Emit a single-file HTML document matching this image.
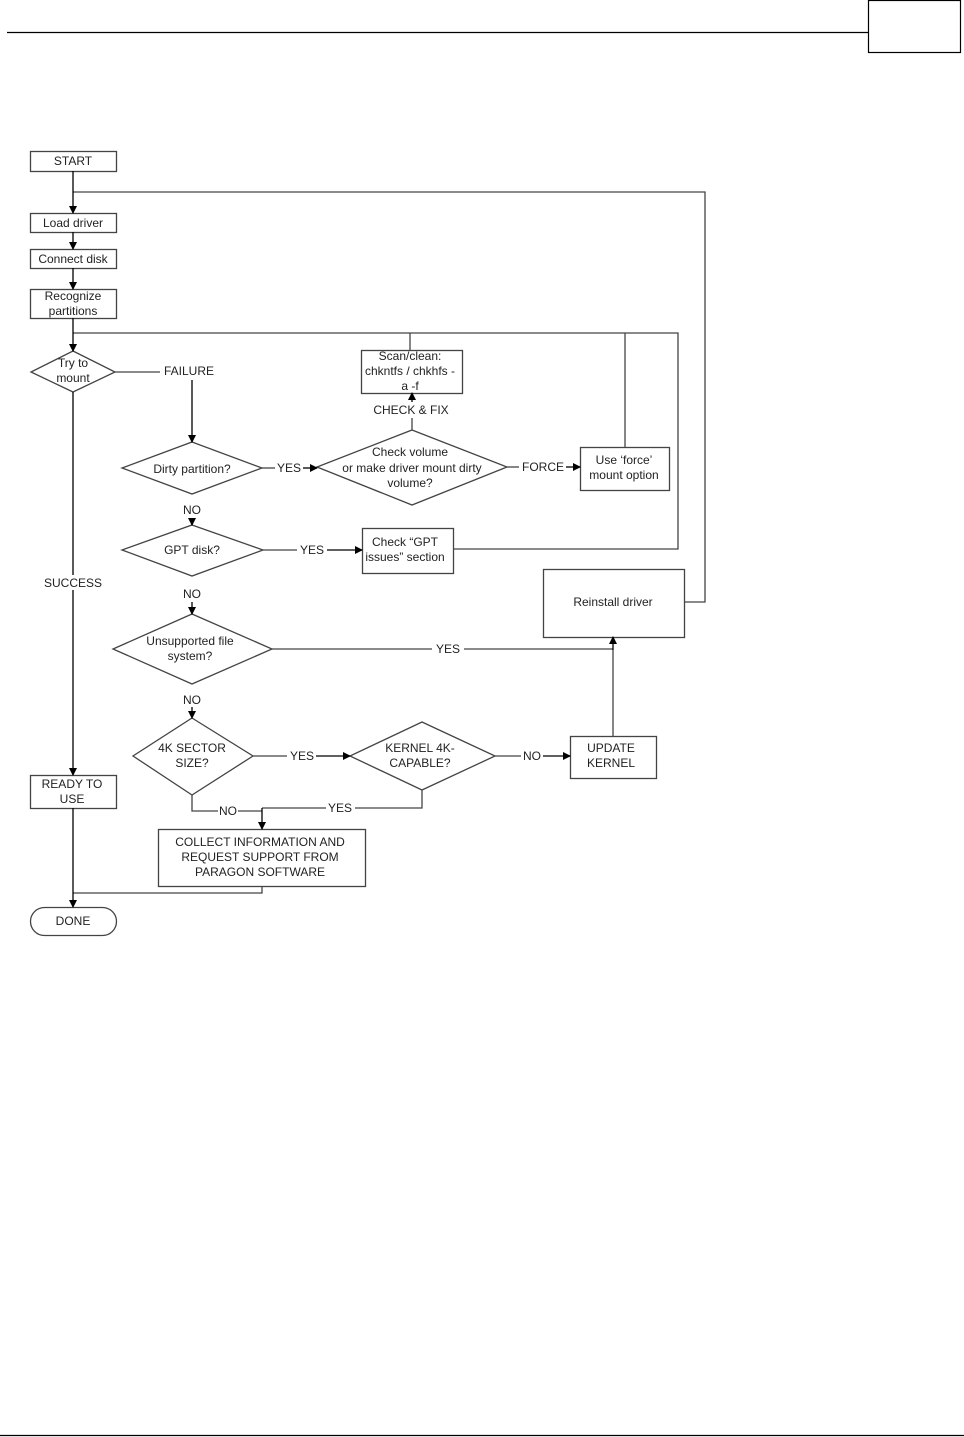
<!DOCTYPE html>
<html><head><meta charset="utf-8"><style>
html,body{margin:0;padding:0;background:#fff;}
svg{display:block;}
text{font-family:"Liberation Sans",Arial,sans-serif;font-size:12px;fill:#222;text-anchor:middle;}
</style></head><body>
<svg width="964" height="1437" viewBox="0 0 964 1437" xmlns="http://www.w3.org/2000/svg">
<defs><marker id="a" markerWidth="8" markerHeight="8" refX="7" refY="4" orient="auto" markerUnits="userSpaceOnUse"><path d="M0,0 L8,4 L0,8 z" fill="#000"/></marker></defs>
<!-- header/footer -->
<line x1="7" y1="32.5" x2="868" y2="32.5" stroke="#000" stroke-width="1.3"/>
<rect x="868.5" y="0.5" width="92" height="52" fill="none" stroke="#000" stroke-width="1.2"/>
<line x1="0" y1="1435.5" x2="964" y2="1435.5" stroke="#000" stroke-width="1.3"/>
<g fill="none" stroke="#444" stroke-width="1.3">
<!-- boxes -->
<rect x="30.5" y="151.5" width="86" height="20"/>
<rect x="30.5" y="213.5" width="86" height="19"/>
<rect x="30.5" y="249.5" width="86" height="19"/>
<rect x="30.5" y="289.5" width="86" height="29"/>
<rect x="361.5" y="350.5" width="101" height="43"/>
<rect x="580.5" y="447.5" width="89" height="43"/>
<rect x="362.5" y="528.5" width="91" height="45"/>
<rect x="543.5" y="569.5" width="141" height="68"/>
<rect x="570.5" y="736.5" width="86" height="42"/>
<rect x="158.5" y="829.5" width="207" height="57"/>
<rect x="30.5" y="775.5" width="86" height="33"/>
<rect x="30.5" y="907.5" width="86" height="28" rx="14"/>
<!-- diamonds -->
<polygon points="73,351 115,372 73,392 31,372"/>
<polygon points="192,442 262,468 192,494 122,468"/>
<polygon points="412,430 507,467 412,505 317,467"/>
<polygon points="192,525 263,550 192,576 122,550"/>
<polygon points="192,614 272,649 192,684 113,649"/>
<polygon points="192,718 253,756 192,795 133,756"/>
<polygon points="422,722 495,756 422,790 350,756"/>
<!-- lines -->
<polyline points="73,192 705,192 705,602 684,602"/>
<polyline points="73,333 678,333 678,549 453,549"/>
<line x1="625" y1="333" x2="625" y2="447"/>
<line x1="410" y1="333" x2="410" y2="350"/>
<line x1="115" y1="372" x2="160" y2="372"/>
<line x1="262" y1="468" x2="275" y2="468"/>
<line x1="507" y1="467" x2="519" y2="467"/>
<line x1="412" y1="430" x2="412" y2="418"/>
<line x1="263" y1="550" x2="297" y2="550"/>
<line x1="272" y1="649" x2="432" y2="649"/>
<line x1="464" y1="649" x2="613" y2="649"/>
<line x1="253" y1="756" x2="287" y2="756"/>
<line x1="495" y1="756" x2="521" y2="756"/>
<line x1="613" y1="736" x2="613" y2="650"/>
<polyline points="192,795 192,811 218,811"/>
<line x1="238" y1="811" x2="262" y2="811"/>
<polyline points="422,790 422,808 355,808"/>
<line x1="326" y1="808" x2="262" y2="808"/>
<polyline points="262,886 262,893 73,893"/>
</g>
<g stroke="#000" stroke-width="1.3" fill="none">
<line x1="73" y1="171" x2="73" y2="213" marker-end="url(#a)"/>
<line x1="73" y1="232" x2="73" y2="249" marker-end="url(#a)"/>
<line x1="73" y1="268" x2="73" y2="289" marker-end="url(#a)"/>
<line x1="73" y1="318" x2="73" y2="351" marker-end="url(#a)"/>
<line x1="192" y1="380" x2="192" y2="442" marker-end="url(#a)"/>
<line x1="303" y1="468" x2="317" y2="468" marker-end="url(#a)"/>
<line x1="412" y1="402" x2="412" y2="393" marker-end="url(#a)"/>
<line x1="566" y1="467" x2="580" y2="467" marker-end="url(#a)"/>
<line x1="192" y1="518" x2="192" y2="525" marker-end="url(#a)"/>
<line x1="327" y1="550" x2="362" y2="550" marker-end="url(#a)"/>
<line x1="192" y1="602" x2="192" y2="614" marker-end="url(#a)"/>
<line x1="613" y1="650" x2="613" y2="637" marker-end="url(#a)"/>
<line x1="192" y1="707" x2="192" y2="718" marker-end="url(#a)"/>
<line x1="316" y1="756" x2="350" y2="756" marker-end="url(#a)"/>
<line x1="543" y1="756" x2="570" y2="756" marker-end="url(#a)"/>
<line x1="262" y1="808" x2="262" y2="829" marker-end="url(#a)"/>
<line x1="73" y1="392" x2="73" y2="775" marker-end="url(#a)"/>
<line x1="73" y1="808" x2="73" y2="907" marker-end="url(#a)"/>
</g>
<rect x="40" y="575" width="66" height="15" fill="#fff"/>
<text x="73" y="165">START</text>
<text x="73" y="227">Load driver</text>
<text x="73" y="263">Connect disk</text>
<text x="73" y="300">Recognize</text>
<text x="73" y="315">partitions</text>
<text x="73" y="367">Try to</text>
<text x="73" y="382">mount</text>
<text x="189" y="375">FAILURE</text>
<text x="192" y="473">Dirty partition?</text>
<text x="289" y="472">YES</text>
<text x="410" y="456">Check volume</text>
<text x="412" y="472">or make driver mount dirty</text>
<text x="410" y="487">volume?</text>
<text x="411" y="414">CHECK &amp; FIX</text>
<text x="410" y="360">Scan/clean:</text>
<text x="410" y="375">chkntfs / chkhfs -</text>
<text x="410" y="390">a -f</text>
<text x="543" y="471">FORCE</text>
<text x="624" y="464">Use ‘force’</text>
<text x="624" y="479">mount option</text>
<text x="192" y="514">NO</text>
<text x="192" y="554">GPT disk?</text>
<text x="312" y="554">YES</text>
<text x="405" y="546">Check “GPT</text>
<text x="405" y="561">issues” section</text>
<text x="192" y="598">NO</text>
<text x="73" y="587">SUCCESS</text>
<text x="613" y="606">Reinstall driver</text>
<text x="190" y="645">Unsupported file</text>
<text x="190" y="660">system?</text>
<text x="448" y="653">YES</text>
<text x="192" y="704">NO</text>
<text x="192" y="752">4K SECTOR</text>
<text x="192" y="767">SIZE?</text>
<text x="302" y="760">YES</text>
<text x="420" y="752">KERNEL 4K-</text>
<text x="420" y="767">CAPABLE?</text>
<text x="532" y="760">NO</text>
<text x="611" y="752">UPDATE</text>
<text x="611" y="767">KERNEL</text>
<text x="228" y="815">NO</text>
<text x="340" y="812">YES</text>
<text x="260" y="846">COLLECT INFORMATION AND</text>
<text x="260" y="861">REQUEST SUPPORT FROM</text>
<text x="260" y="876">PARAGON SOFTWARE</text>
<text x="72" y="788">READY TO</text>
<text x="72" y="803">USE</text>
<text x="73" y="925">DONE</text>
</svg>
</body></html>
